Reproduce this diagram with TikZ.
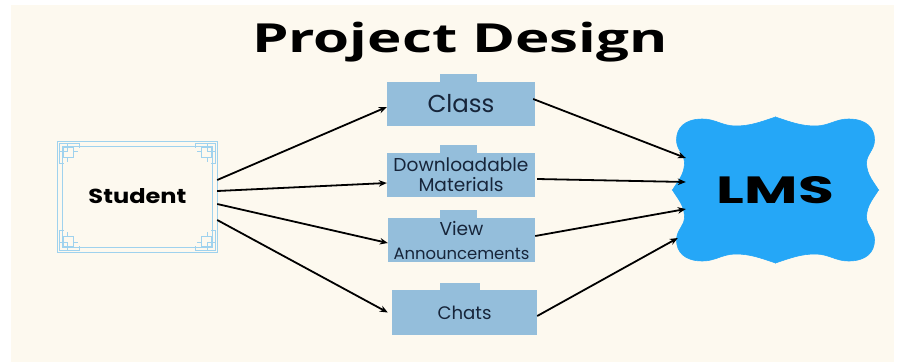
\documentclass[tikz,border=0pt]{standalone}
\usepackage{fontspec}
\setmainfont{Poppins}
\newfontfamily\titlefont{Open Sans}
\usetikzlibrary{arrows.meta}
\definecolor{bg}{HTML}{FDF9EF}
\definecolor{boxfill}{HTML}{94BEDB}
\definecolor{boxtext}{HTML}{17253A}
\definecolor{framec}{HTML}{9FD2EE}
\definecolor{lmsfill}{HTML}{25A7F7}
\newcommand\fitw[2]{\resizebox{#1}{!}{#2}}
\newcommand\stucorner{%
  \draw (2,2) rectangle (10,10);
  \draw (6,6) rectangle (16,16);
  \draw (10,2) -- (22,2) -- (22,6);
  \draw (2,10) -- (2,22) -- (6,22);
  \draw (16,10) -- (20,10);
  \draw (10,16) -- (10,20);
}
\newcommand\lmsquarter{%
  \filldraw (0,0) -- (0,-73) .. controls (15,-68) and (25,-64) .. (40,-64)
    .. controls (53,-64) and (60,-71) .. (73,-71)
    .. controls (91,-71) and (99,-62) .. (99,-50)
    .. controls (99,-40) and (91,-36) .. (91,-27)
    .. controls (91,-15) and (99,-7) .. (103,0) -- cycle;
}
\begin{document}
\begin{tikzpicture}[x=1pt,y=-1pt,
  boxnode/.style={fill=boxfill, inner sep=0pt, minimum width=148pt, minimum height=44pt,
    text=boxtext, align=center, font=\fontsize{14}{20}\selectfont},
  tabfill/.style={fill=boxfill},
  conn/.style={line width=1.8pt, -{Stealth[length=8pt,width=6.5pt]}},
  framel/.style={draw=framec, line width=1.1pt},
  lmsshape/.style={fill=lmsfill, draw=lmsfill, line width=0.6pt}]
\useasboundingbox (0,0) rectangle (899,362);
\fill[white] (0,0) rectangle (899,362);
\fill[bg] (11,5) rectangle (894,362);

% title
\node[inner sep=0pt] (title) at (460,42) {\resizebox*{416pt}{40pt}{\titlefont\bfseries Project Design}};

% student
\node[inner sep=0pt, minimum width=159pt, minimum height=110pt] (stu) at (137.5,197)
  {\raisebox{3pt}{\resizebox{98pt}{15pt}{\bfseries Student}}};
\begin{scope}[framel]
  \draw (stu.south west) rectangle (stu.north east);
  \draw ([xshift=5pt,yshift=5pt]stu.south west) rectangle ([xshift=-5pt,yshift=-5pt]stu.north east);
  \begin{scope}[shift={(stu.north west)}] \stucorner \end{scope}
  \begin{scope}[shift={(stu.north east)}, xscale=-1] \stucorner \end{scope}
  \begin{scope}[shift={(stu.south west)}, yscale=-1] \stucorner \end{scope}
  \begin{scope}[shift={(stu.south east)}, xscale=-1, yscale=-1] \stucorner \end{scope}
\end{scope}

% boxes
\node[boxnode] (cls) at (461,104) {\raisebox{2pt}{\fitw{67pt}{Class}}};
\fill[tabfill] ([xshift=-21pt]cls.north) rectangle ([xshift=16pt,yshift=8pt]cls.north);
\node[boxnode] (dm) at (461,175) {\fitw{135pt}{Downloadable}\\\fitw{85pt}{Materials}};
\fill[tabfill] ([xshift=-21pt]dm.north) rectangle ([xshift=16pt,yshift=8pt]dm.north);
\node[boxnode, minimum width=147pt, font=\fontsize{14}{24}\selectfont] (va) at (461.5,240) {\fitw{44pt}{View}\\\fitw{136pt}{Announcements}};
\fill[tabfill] ([xshift=-21.5pt]va.north) rectangle ([xshift=15.5pt,yshift=8pt]va.north);
\node[boxnode, minimum width=145pt, minimum height=45pt] (ch) at (464.5,312.5) {\fitw{54pt}{Chats}};
\fill[tabfill] ([xshift=-24.5pt]ch.north) rectangle ([xshift=15.5pt,yshift=7pt]ch.north);

% LMS
\node[inner sep=0pt, minimum width=205pt, minimum height=146pt] (lms) at (775.5,190) {};
\begin{scope}[lmsshape]
  \begin{scope}[shift={(lms.center)}] \lmsquarter \end{scope}
  \begin{scope}[shift={(lms.center)}, xscale=-1] \lmsquarter \end{scope}
  \begin{scope}[shift={(lms.center)}, yscale=-1] \lmsquarter \end{scope}
  \begin{scope}[shift={(lms.center)}, xscale=-1, yscale=-1] \lmsquarter \end{scope}
\end{scope}
\node[inner sep=0pt] (lmstext) at (lms.center) {\resizebox{117pt}{27pt}{\bfseries LMS}};

% connectors student -> boxes
\draw[conn] ([yshift=17pt]stu.east) -- ([yshift=-3pt]cls.west);
\draw[conn] ([yshift=6pt]stu.east) -- ([yshift=-8pt]dm.west);
\draw[conn] ([yshift=-7pt]stu.east) -- ([yshift=-3pt]va.west);
\draw[conn] ([yshift=-23pt]stu.east) -- ([xshift=-4pt]ch.west);

% connectors boxes -> LMS
\draw[conn] ([xshift=-2pt,yshift=5pt]cls.east) -- ([xshift=13pt,yshift=32pt]lms.west);
\draw[conn] ([xshift=2pt,yshift=-4pt]dm.east) -- ([xshift=13pt,yshift=8pt]lms.west);
\draw[conn] ([yshift=4pt]va.east) -- ([xshift=13pt,yshift=-19pt]lms.west);
\draw[conn] ([yshift=-3.5pt]ch.east) -- ([xshift=5pt,yshift=-48pt]lms.west);
\end{tikzpicture}
\end{document}
